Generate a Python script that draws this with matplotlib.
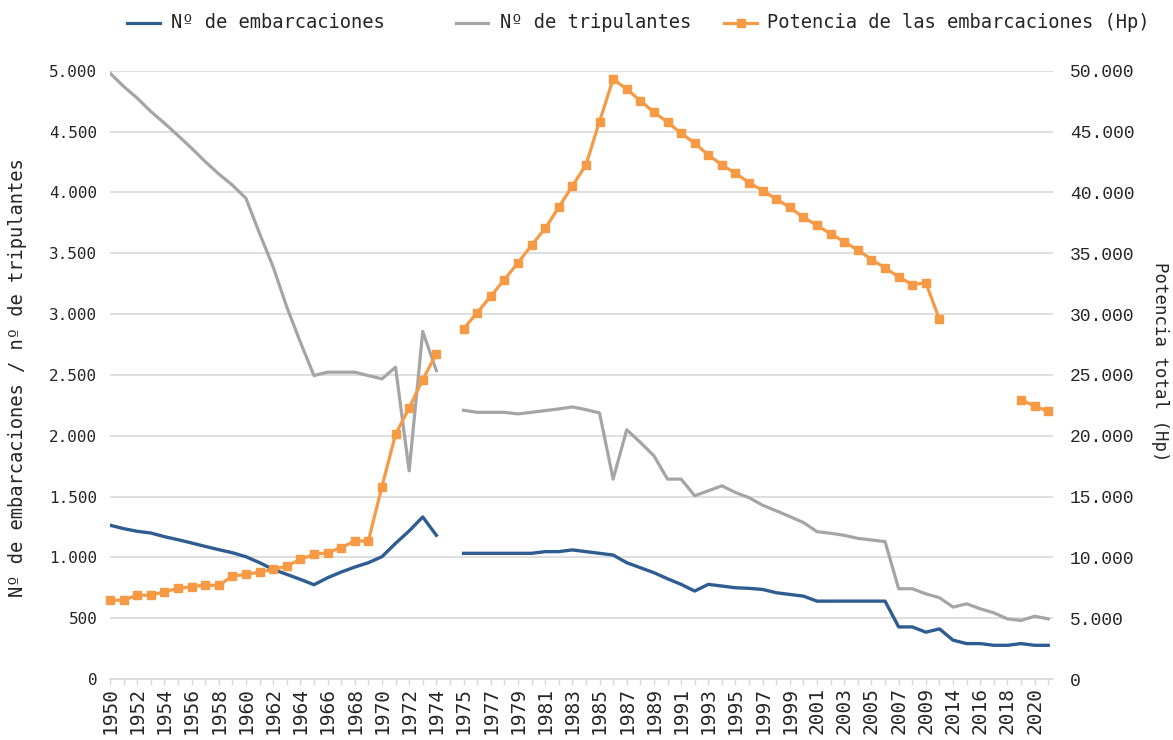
import matplotlib
matplotlib.use("Agg")
import matplotlib.pyplot as plt
from matplotlib.lines import Line2D
from matplotlib.ticker import FuncFormatter
import numpy as np

nan = np.nan

# categorias del eje X (hueco entre 1974 y 1975, y salto 2010 -> 2014)
years = ([str(y) for y in range(1950, 1975)] + [""] +
         [str(y) for y in range(1975, 2010)] + ["2010"] +
         [str(y) for y in range(2014, 2022)])

# Nº de embarcaciones
embarcaciones = [1264, 1236, 1214, 1200, 1170, 1145, 1118, 1090, 1063, 1038,
                 1005, 956, 901, 860, 819, 775, 832, 879, 920, 956,
                 1005, 1115, 1217, 1332, 1181,
                 nan,
                 1033, 1033, 1033, 1033, 1033, 1033, 1047, 1047, 1061, 1047,
                 1033, 1019, 956, 915, 874, 824, 778, 723, 778, 764,
                 750, 745, 736, 709, 695, 681, 640, 640, 640, 640,
                 640, 640, 428, 428, 385, 412, 319, 291, 291, 277,
                 277, 291, 277, 277]

# Nº de tripulantes
tripulantes = [4980, 4871, 4775, 4665, 4569, 4467, 4363, 4253, 4151, 4060,
               3951, 3662, 3387, 3058, 2769, 2494, 2522, 2522, 2522, 2494,
               2467, 2563, 1711, 2857, 2535,
               nan,
               2209, 2192, 2192, 2192, 2179, 2192, 2206, 2220, 2236, 2214,
               2187, 1643, 2049, 1945, 1835, 1643, 1643, 1506, 1547, 1588,
               1533, 1490, 1428, 1382, 1335, 1286, 1211, 1198, 1181, 1156,
               1143, 1129, 742, 742, 700, 668, 591, 618, 577, 544,
               494, 481, 516, 494]

# Potencia de las embarcaciones (Hp)
potencia = [6480, 6480, 6890, 6890, 7170, 7440, 7580, 7720, 7690, 8460,
            8600, 8790, 9010, 9280, 9830, 10250, 10380, 10800, 11340, 11340,
            15820, 20110, 22280, 24610, 26730,
            nan,
            28790, 30110, 31460, 32830, 34200, 35660, 37030, 38770, 40520, 42250,
            45820, 49310, 48490, 47530, 46590, 45770, 44860, 44040, 43080, 42250,
            41570, 40800, 40140, 39450, 38760, 37940, 37280, 36590, 35940, 35250,
            34480, 33790, 33050, 32420, 32560, 29560,
            nan, nan, nan, nan, nan,
            22970, 22420, 22010]

BLUE = "#2f5d91"
GREY = "#a5a5a5"
ORANGE = "#f79a46"
GRID = "#d9d9d9"
TXT = "#262626"
MONO = "DejaVu Sans Mono"

W, H = 1173, 740
def fx(px):
    return px / W
def fy(py):
    return 1 - py / H

miles = FuncFormatter(lambda v, p: f"{v:,.0f}".replace(",", "."))

fig = plt.figure(figsize=(W / 100, H / 100), dpi=100)
ax = fig.add_axes([fx(110), fy(679), (1053 - 110) / W, (679 - 70.7) / H])

x = np.arange(len(years))
ax.plot(x, embarcaciones, color=BLUE, lw=2.4, zorder=3)
ax.plot(x, tripulantes, color=GREY, lw=2.3, zorder=3)

ax.set_xlim(0, 69.35)
ax.set_ylim(0, 5000)
ax.set_yticks(np.arange(0, 5001, 500))
ax.yaxis.set_major_formatter(miles)
ax.yaxis.grid(True, color=GRID, lw=1.2)
ax.set_axisbelow(True)

ax.set_xticks(x)
ax.set_xticklabels([lab if i % 2 == 0 else "" for i, lab in enumerate(years)],
                   rotation=90, fontsize=14, family=MONO, color=TXT)
ax.tick_params(axis="x", length=4, color=GRID, width=1, pad=2)
ax.tick_params(axis="y", length=0, pad=9, labelsize=11.5, labelcolor=TXT)
for lab in ax.get_yticklabels():
    lab.set_family(MONO)

for side in ["top", "left", "right"]:
    ax.spines[side].set_visible(False)
ax.spines["bottom"].set_color(GRID)
ax.spines["bottom"].set_linewidth(1.2)

# eje secundario: potencia total
ax2 = ax.twinx()
ax2.plot(x, potencia, color=ORANGE, lw=2.3, marker="s", ms=6, clip_on=False, zorder=4)
ax2.set_ylim(0, 50000)
ax2.set_yticks(np.arange(0, 50001, 5000))
ax2.yaxis.set_major_formatter(miles)
ax2.tick_params(axis="y", length=0, pad=12, labelsize=13, labelcolor=TXT)
for lab in ax2.get_yticklabels():
    lab.set_family("Liberation Mono")
for side in ax2.spines:
    ax2.spines[side].set_visible(False)

fig.text(fx(18), fy(378), "Nº de embarcaciones / nº de tripulantes", rotation=90,
         ha="center", va="center", fontsize=13.5, family=MONO, color=TXT)
fig.text(fx(1160), fy(362), "Potencia total (Hp)", rotation=270,
         ha="center", va="center", fontsize=12.5, family=MONO, color=TXT)

# leyenda superior
entries = [(127, 160, 171, BLUE, None, "Nº de embarcaciones"),
           (456, 488, 500, GREY, None, "Nº de tripulantes"),
           (724, 757, 767, ORANGE, "s", "Potencia de las embarcaciones (Hp)")]
ly = fy(23)
for x0, x1, xt, col, mk, txt in entries:
    fig.add_artist(Line2D([fx(x0), fx(x1)], [ly, ly], color=col, lw=2.3))
    if mk:
        fig.add_artist(Line2D([fx((x0 + x1) / 2)], [ly], color=col, marker=mk, ms=6, lw=0))
    fig.text(fx(xt), ly, txt, ha="left", va="center", fontsize=13.5, family=MONO, color=TXT)

fig.savefig("out.png", dpi=100, facecolor="white")
